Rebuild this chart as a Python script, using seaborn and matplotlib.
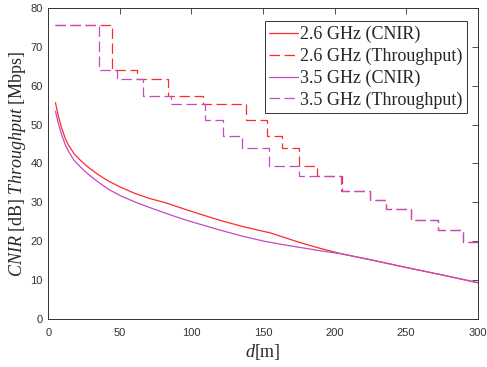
import matplotlib
matplotlib.use("Agg")
import matplotlib.pyplot as plt
import seaborn as sns

# ---- data ----
d_cnir_26 = [5, 7, 9.3, 12, 14, 18, 23, 28, 35, 42, 50, 60, 70, 83, 95, 106, 120, 135,
             150, 155, 165, 175, 190, 205, 230, 250, 275, 300]
cnir_26 = [55.6, 52.2, 49.1, 46.3, 44.8, 42.5, 40.6, 39.0, 37.1, 35.5, 34.0, 32.4, 31.1,
           29.8, 28.3, 27.0, 25.4, 23.9, 22.6, 22.2, 21.0, 19.8, 18.2, 16.8, 14.9, 13.3,
           11.4, 9.4]

d_cnir_35 = [5, 7, 9.3, 12, 14, 18, 23, 28, 35, 42, 50, 60, 70, 83, 95, 106, 120, 135,
             150, 165, 175, 190, 205, 230, 250, 275, 300]
cnir_35 = [53.4, 50.3, 47.4, 44.7, 43.2, 40.8, 38.9, 37.2, 35.2, 33.4, 31.8, 30.2, 28.8,
           27.1, 25.6, 24.4, 22.9, 21.4, 20.1, 19.1, 18.5, 17.6, 16.8, 14.9, 13.3, 11.4,
           9.4]

levels = [75.5, 63.9, 61.8, 57.3, 55.2, 51.1, 47.0, 43.9, 39.4, 36.7, 32.9, 30.6, 28.4,
          25.5, 22.8, 19.8, 19.8]
d_thr_26 = [5, 44.8, 61.7, 83.7, 108, 138.2, 152.9, 163, 175.4, 188, 205, 224.8, 235.7,
            253.5, 272, 289.7, 300]
d_thr_35 = [5, 35.5, 48.2, 65.9, 85.4, 109.7, 122, 135.5, 154.5, 174.9, 204.4, 224.8,
            235.7, 253.5, 272, 289.7, 300]

labels = ["2.6 GHz (CNIR)", "2.6 GHz (Throughput)", "3.5 GHz (CNIR)", "3.5 GHz (Throughput)"]
red = "#FF2A2A"
mag = "#C04CC0"

sns.set_style("white")
plt.rcParams["lines.scale_dashes"] = False
plt.rcParams["mathtext.fontset"] = "custom"
plt.rcParams["mathtext.it"] = "Liberation Serif:italic"
plt.rcParams["mathtext.rm"] = "Liberation Serif"

fig = plt.figure(figsize=(4.87, 3.67), dpi=100)
ax = fig.add_axes([0.0992, 0.13, 0.8817, 0.849])

lw = 0.9
dash = (0, (7.5, 3.3))
sns.lineplot(x=d_cnir_26, y=cnir_26, ax=ax, color=red, lw=lw, label=labels[0],
             sort=False, estimator=None)
sns.lineplot(x=d_thr_26, y=levels, ax=ax, color=red, lw=lw, linestyle=dash,
             drawstyle="steps-post", label=labels[1], sort=False, estimator=None)
sns.lineplot(x=d_cnir_35, y=cnir_35, ax=ax, color=mag, lw=lw, label=labels[2],
             sort=False, estimator=None)
sns.lineplot(x=d_thr_35, y=levels, ax=ax, color=mag, lw=lw, linestyle=dash,
             drawstyle="steps-post", label=labels[3], sort=False, estimator=None)

ax.set_xlim(0, 300)
ax.set_ylim(0, 80)
ax.set_xticks(range(0, 301, 50))
ax.set_yticks(range(0, 81, 10))
ax.tick_params(direction="in", length=4, width=0.6, top=True, right=True,
               labelsize=8, labelcolor="#333333", color="#333333", pad=4)
ax.tick_params(axis="x", pad=6)
for lab in ax.get_xticklabels() + ax.get_yticklabels():
    lab.set_family("Liberation Sans")
for s in ax.spines.values():
    s.set_color("#333333")
    s.set_linewidth(0.7)

ax.set_xlabel(r"$d$[m]", fontsize=13, family="Liberation Serif", labelpad=3)
ax.set_ylabel(r"$CNIR$ [dB] $Throughput$ [Mbps]", fontsize=13,
              family="Liberation Serif", labelpad=2)

leg = ax.legend(loc="upper right", bbox_to_anchor=(0.9758, 0.956), frameon=True,
                fancybox=False, edgecolor="#333333", framealpha=1,
                prop={"family": "Liberation Serif", "size": 13},
                handlelength=1.6, handletextpad=0.12, labelspacing=0.25,
                borderpad=0.25, borderaxespad=0.0)
leg.get_frame().set_linewidth(0.7)

fig.savefig("out.png", dpi=100)
